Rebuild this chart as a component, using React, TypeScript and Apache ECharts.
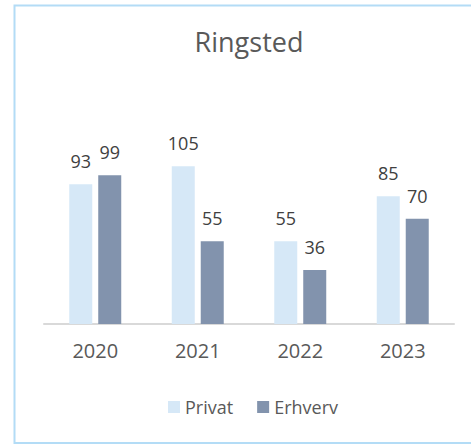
import React, { useEffect, useRef } from "react";
import * as echarts from "echarts";

const categories = ["2020", "2021", "2022", "2023"];
const privat = [93, 105, 55, 85];
const erhverv = [99, 55, 36, 70];
const titleText = "Ringsted";
const seriesNames = ["Privat", "Erhverv"];

const FONT = "'Open Sans', 'Noto Sans', sans-serif";

export default function App() {
  const ref = useRef<HTMLDivElement>(null);
  useEffect(() => {
    if (!ref.current) return;
    const chart = echarts.init(ref.current, null, { renderer: "svg" });
    chart.setOption({
      animation: false,
      backgroundColor: "#ffffff",
      legend: {
        data: seriesNames,
        left: 163,
        top: 393,
        itemWidth: 12,
        itemHeight: 12,
        itemGap: 24,
        icon: "rect",
        textStyle: { fontFamily: FONT, fontSize: 18, color: "#595959" },
      },
      graphic: [
        {
          type: "polyline",
          shape: { points: [[520, 5.5], [14.5, 5.5], [14.5, 443], [520, 443]] },
          style: { fill: "none", stroke: "#b3dcf6", lineWidth: 2 },
          silent: true,
        },
        {
          type: "text",
          x: 249,
          y: 28,
          style: {
            text: titleText,
            textAlign: "center",
            textVerticalAlign: "top",
            fontFamily: FONT,
            fontSize: 27,
            fill: "#595959",
          },
          silent: true,
        },
      ],
      grid: { left: 44, right: 17, top: 143.6, bottom: 122, containLabel: false },
      xAxis: {
        type: "category",
        data: categories,
        axisLine: { lineStyle: { color: "#d9d9d9", width: 2 } },
        axisTick: { show: false },
        axisLabel: { fontFamily: FONT, fontSize: 20, color: "#595959", margin: 16 },
      },
      yAxis: {
        type: "value",
        min: 0,
        max: 120,
        show: false,
        splitLine: { show: false },
      },
      series: [
        {
          name: seriesNames[0],
          type: "bar",
          data: privat,
          barWidth: 23,
          barGap: "26%",
          itemStyle: { color: "#d6e8f7" },
          label: {
            show: true,
            position: "top",
            distance: 14,
            fontFamily: FONT,
            fontSize: 18,
            color: "#404040",
          },
        },
        {
          name: seriesNames[1],
          type: "bar",
          data: erhverv,
          barWidth: 23,
          barGap: "26%",
          itemStyle: { color: "#8293ad" },
          label: {
            show: true,
            position: "top",
            distance: 14,
            fontFamily: FONT,
            fontSize: 18,
            color: "#404040",
          },
        },
      ],
    });
    return () => chart.dispose();
  }, []);
  return (
    <div
      ref={ref}
      style={{ position: "fixed", left: 0, top: 0, width: 471, height: 446 }}
    />
  );
}
